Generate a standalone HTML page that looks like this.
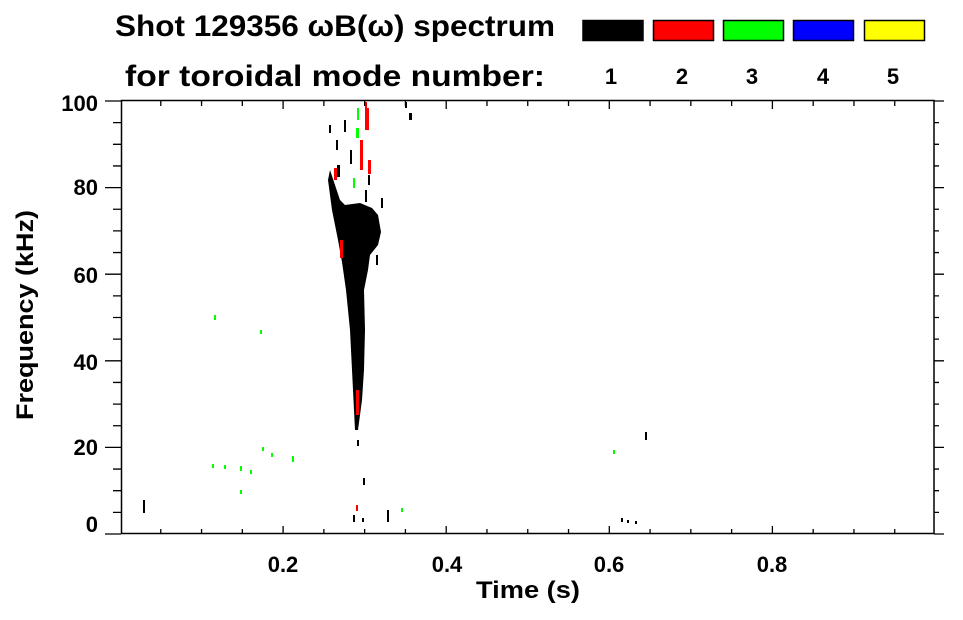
<!DOCTYPE html>
<html><head><meta charset="utf-8"><style>
body{margin:0;background:#fff;width:963px;height:615px;overflow:hidden}
svg text{font-family:"Liberation Sans",sans-serif;font-weight:bold;fill:#000}
</style></head><body>
<svg width="963" height="615" viewBox="0 0 963 615" xmlns="http://www.w3.org/2000/svg">
<text x="115" y="36" font-size="30" textLength="440" lengthAdjust="spacingAndGlyphs">Shot 129356 ωB(ω) spectrum</text>
<text x="125" y="86" font-size="30" textLength="420" lengthAdjust="spacingAndGlyphs">for toroidal mode number:</text>
<g stroke="#000" stroke-width="1.5">
<rect x="583" y="20.5" width="60" height="20" fill="#000"/>
<rect x="653.5" y="20.5" width="60" height="20" fill="#ff0000"/>
<rect x="723.5" y="20.5" width="60" height="20" fill="#00ff00"/>
<rect x="793.5" y="20.5" width="60" height="20" fill="#0000ff"/>
<rect x="864.5" y="20.5" width="60" height="20" fill="#ffff00"/>
</g>
<g font-size="22" text-anchor="middle">
<text x="611" y="84">1</text><text x="682" y="84">2</text><text x="752" y="84">3</text><text x="823" y="84">4</text><text x="893" y="84">5</text>
</g>
<!-- data -->
<g fill="#000">
<polygon points="330,170 340,200 345,205 360,203 372,208 378,215 381,232 378,245 370,255 368,270 364,290 365,330 364,370 362,400 358,430 355,430 352,370 350,330 346,290 342,262 338,240 332,210 328,180"/>
<rect x="329" y="125" width="2" height="8"/><rect x="336" y="140" width="2" height="10"/><rect x="344" y="120" width="2" height="12"/>
<rect x="350" y="150" width="2" height="14"/><rect x="368" y="175" width="2" height="10"/><rect x="337" y="165" width="3" height="12"/>
<rect x="365" y="190" width="2" height="12"/><rect x="376" y="255" width="2" height="10"/><rect x="381" y="198" width="2" height="10"/>
<rect x="357" y="440" width="2" height="6"/><rect x="363" y="478" width="2" height="7"/><rect x="353" y="515" width="2" height="7"/>
<rect x="362" y="518" width="2" height="4"/><rect x="387" y="510" width="2" height="12"/><rect x="143" y="500" width="2" height="13"/>
<rect x="405" y="102" width="2" height="6"/><rect x="409" y="113" width="3" height="7"/><rect x="645" y="432" width="2" height="8"/>
<rect x="621" y="518" width="2" height="4"/><rect x="627" y="520" width="2" height="3"/><rect x="635" y="521" width="2" height="3"/>
</g>
<g fill="#ff0000">
<rect x="365" y="108" width="4" height="22"/><rect x="360" y="140" width="3" height="30"/><rect x="368" y="160" width="3" height="14"/>
<rect x="334" y="168" width="3" height="12"/><rect x="340" y="240" width="3" height="18"/><rect x="356" y="390" width="3" height="25"/>
<rect x="365" y="102" width="2" height="8"/><rect x="356" y="505" width="2" height="6"/>
</g>
<g fill="#00ff00">
<rect x="357" y="108" width="2" height="12"/><rect x="356" y="128" width="3" height="10"/><rect x="353" y="178" width="2" height="10"/>
<rect x="214" y="315" width="2" height="5"/><rect x="260" y="330" width="2" height="4"/><rect x="212" y="464" width="2" height="4"/>
<rect x="224" y="465" width="2" height="4"/><rect x="240" y="466" width="2" height="5"/><rect x="262" y="447" width="2" height="4"/>
<rect x="271" y="453" width="2" height="4"/><rect x="292" y="456" width="2" height="6"/><rect x="240" y="490" width="2" height="4"/>
<rect x="250" y="470" width="2" height="4"/><rect x="401" y="508" width="2" height="4"/><rect x="613" y="450" width="2" height="4"/>
</g>
<!-- axes -->
<rect x="121.5" y="100.5" width="812.5" height="433" stroke="#000" stroke-width="1.5" fill="none"/>
<g font-size="22" text-anchor="middle">
<text x="283" y="572">0.2</text><text x="447" y="572">0.4</text><text x="609" y="572">0.6</text><text x="772" y="572">0.8</text>
</g>
<g font-size="22" text-anchor="end">
<text x="98" y="532">0</text><text x="98" y="455">20</text><text x="98" y="370">40</text><text x="98" y="283">60</text><text x="98" y="195">80</text><text x="98" y="111">100</text>
</g>
<text x="476" y="598" font-size="24" textLength="104" lengthAdjust="spacingAndGlyphs">Time (s)</text>
<text transform="translate(33,420) rotate(-90)" font-size="24" textLength="210" lengthAdjust="spacingAndGlyphs">Frequency (kHz)</text>
<path stroke="#000" stroke-width="1.3" fill="none" id="ticks" d=""/>
<script>
var d="";
for(var i=1;i<20;i++){var x=120+i*0.05*815.5;var L=(i%4==0)?8:5;d+="M"+x+",534v-"+L+"M"+x+",101v"+L;}
for(var j=0;j<=20;j++){var y=534-j*21.65;if(j%4==0){d+="M105,"+y+"h16M934,"+y+"h10";}else{d+="M113,"+y+"h8M934,"+y+"h5";}}
document.getElementById("ticks").setAttribute("d",d);
</script>
</svg>
</body></html>
